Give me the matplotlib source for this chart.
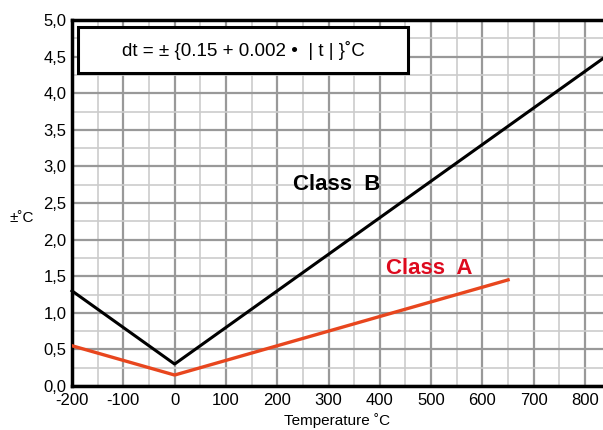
import numpy as np
import matplotlib
matplotlib.use('Agg')
import matplotlib.pyplot as plt
from matplotlib.patches import Rectangle
from matplotlib.ticker import MultipleLocator, FuncFormatter

plt.rcParams['font.family'] = ['Liberation Sans', 'DejaVu Sans']
plt.rcParams['axes.unicode_minus'] = False

# tolerance curves
class_b_t = [-200, 0, 835]
class_b_dt = [1.3, 0.3, 4.475]
class_a_t = [-200, 0, 650]
class_a_dt = [0.55, 0.15, 1.45]

x_ticks = [-200, -100, 0, 100, 200, 300, 400, 500, 600, 700, 800]

fig = plt.figure(figsize=(6.03, 4.30), dpi=100)
ax = fig.add_axes([0.1194, 0.1023, 0.8806, 0.851])

ax.plot(class_b_t, class_b_dt, color='black', lw=2.2, zorder=3, clip_on=False)
ax.plot(class_a_t, class_a_dt, color='#e8461e', lw=2.4, zorder=3)

ax.set_xlim(-200, 835)
ax.set_ylim(0, 5)
ax.set_xticks(x_ticks)
ax.yaxis.set_major_locator(MultipleLocator(0.5))
ax.xaxis.set_minor_locator(MultipleLocator(50))
ax.yaxis.set_minor_locator(MultipleLocator(0.25))
ax.yaxis.set_major_formatter(FuncFormatter(lambda v, p: ('%.1f' % v).replace('.', ',')))

ax.grid(which='major', color='#999999', lw=1.6)
ax.grid(which='minor', color='#cccccc', lw=1.2)
ax.set_axisbelow(True)
ax.tick_params(which='both', length=0, labelsize=12)
ax.tick_params(axis='y', pad=4)
ax.tick_params(axis='x', pad=5)

for s in ['left', 'bottom', 'top']:
    ax.spines[s].set_linewidth(2.5)
ax.spines['right'].set_visible(False)

ax.add_patch(Rectangle((0.011, 0.855), 0.622, 0.126, transform=ax.transAxes,
                       facecolor='white', edgecolor='black', lw=2.2, zorder=4))
ax.text(0.322, 0.918, 'dt = ± {0.15 + 0.002 •  | t | }˚C', transform=ax.transAxes,
        ha='center', va='center', fontsize=13.5, zorder=5)

ax.text(316, 2.76, 'Class  B', fontsize=16, fontweight='bold', ha='center', va='center')
ax.text(497, 1.6, 'Class  A', fontsize=16, fontweight='bold', color='#dd0a1e',
        ha='center', va='center')

fig.text(0.036, 0.493, '±˚C', fontsize=11, ha='center', va='center')
ax.set_xlabel('Temperature ˚C', fontsize=11, labelpad=4)

fig.savefig('out.png', dpi=100)
